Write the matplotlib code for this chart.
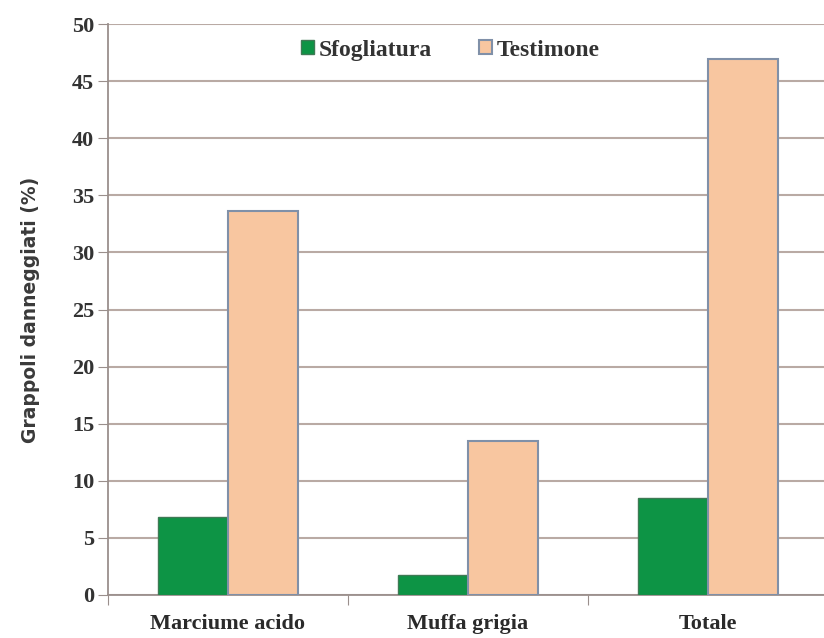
import matplotlib.pyplot as plt
import numpy as np

categories = ['Marciume acido', 'Muffa grigia', 'Totale']
sfogliatura = [6.8, 1.75, 8.5]
testimone = [33.6, 13.5, 46.9]

fig = plt.figure(figsize=(8.24, 6.38), dpi=100)
ax = fig.add_axes([108/824, 43/638, 720/824, 571/638])

x = np.arange(len(categories))
w = 0.29
ax.bar(x - w/2, sfogliatura, w, color='#0d9445', edgecolor='#3f7a55', linewidth=1.0,
       label='Sfogliatura', zorder=3)
ax.bar(x + w/2, testimone, w, color='#f8c6a0', edgecolor='#8090a8', linewidth=1.5,
       label='Testimone', zorder=3)

ax.set_xlim(-0.5, 2.5)
ax.set_ylim(0, 50)
ax.set_yticks(range(0, 51, 5))
ax.yaxis.grid(True, color='#b9aaa4', linewidth=1.5, zorder=0)
ax.set_xticks([-0.5, 0.5, 1.5, 2.5])
ax.set_xticklabels([])
ax.set_xticks(x, minor=True)
ax.set_xticklabels(categories, minor=True, fontfamily='Liberation Serif',
                   fontsize=16, fontweight='bold', color='#2a2a2a')
ax.tick_params(axis='x', which='minor', length=0, pad=14)
ax.tick_params(axis='x', which='major', length=7, color='#9a8f8c')
ax.tick_params(axis='y', length=7, color='#9a8f8c', pad=3)
for lab in ax.get_yticklabels():
    lab.set_fontfamily('Liberation Serif')
    lab.set_fontweight('bold')
    lab.set_fontsize(16)
    lab.set_color('#333333')

for s in ['top', 'right']:
    ax.spines[s].set_visible(False)
ax.spines['left'].set_color('#9a8f8c')
ax.spines['bottom'].set_color('#9a8f8c')
ax.spines['left'].set_linewidth(1.3)
ax.spines['bottom'].set_linewidth(1.3)

ax.set_ylabel('Grappoli danneggiati (%)', fontfamily='DejaVu Sans',
              fontsize=13.5, fontweight='semibold', color='#3a3a3a')
ax.yaxis.set_label_coords(-0.095, 0.5)

leg = ax.legend(loc='upper center', bbox_to_anchor=(0.475, 1.01), ncol=2, frameon=False,
                handlelength=0.55, handleheight=0.55, handletextpad=0.2, columnspacing=2.0,
                prop={'family': 'Liberation Serif', 'weight': 'bold', 'size': 17})
for t in leg.get_texts():
    t.set_color('#333333')

fig.savefig('out.png', dpi=100)
